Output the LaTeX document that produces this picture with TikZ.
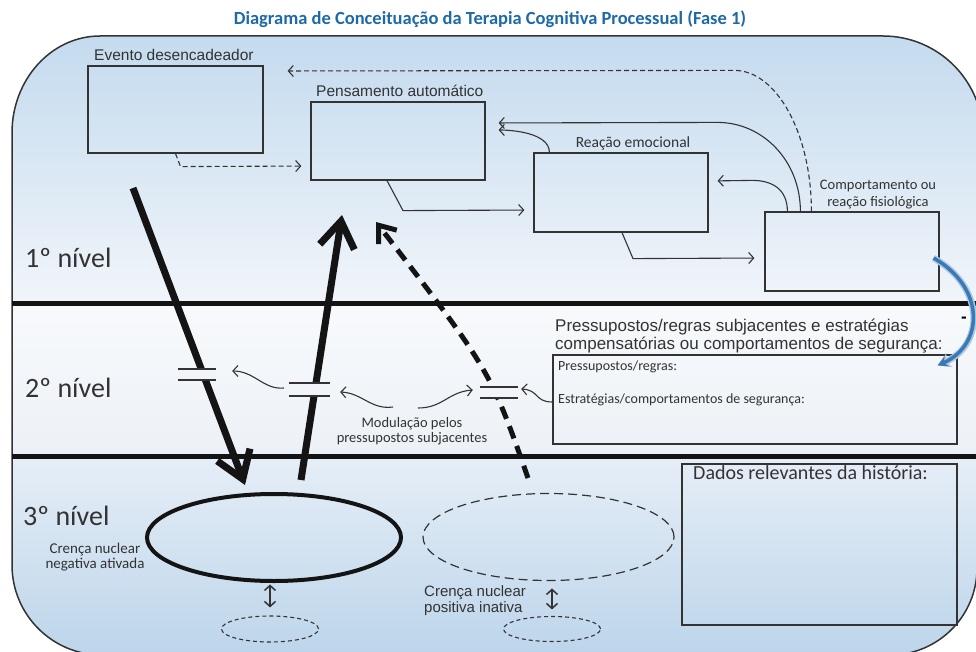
\documentclass[tikz,border=0pt]{standalone}
\usepackage{fontspec}
\setmainfont{Carlito}
\newfontfamily\arialf{Liberation Sans}
\usetikzlibrary{arrows.meta,shapes.geometric,calc}
\definecolor{ink}{HTML}{333333}
\definecolor{titleblue}{HTML}{1E69A8}
\definecolor{bgA}{HTML}{C3DAEE}
\definecolor{bgB}{HTML}{F1F5FA}
\definecolor{bgC}{HTML}{F8FAFC}
\definecolor{bgD}{HTML}{ECF1F7}
\definecolor{bgE}{HTML}{E6EEF7}
\definecolor{bgF}{HTML}{BBD4EA}
\definecolor{arcblue}{HTML}{3B78B4}
\definecolor{arclight}{HTML}{A8C8E6}
\newcommand\fsz[2]{\fontsize{#1}{#2}\selectfont}
\begin{document}
\begin{tikzpicture}[x=1pt,y=-1pt,
  box/.style={draw=ink, line width=1.2pt, rectangle, inner sep=0pt},
  conn/.style={draw=ink, line width=1.1pt, -{Straight Barb[length=5pt,width=11pt]}},
  dconn/.style={conn, dash pattern=on 5pt off 3pt},
  big/.style={draw=black!92, line width=7pt, -{Straight Barb[length=26pt,width=35pt]}},
  bigdash/.style={draw=black!92, line width=5pt, dash pattern=on 13pt off 8pt, -{Straight Barb[length=15pt,width=23pt]}},
  gate/.style={rectangle, fill=bgC!45!bgD, inner sep=0pt, draw=none},
  gateline/.style={draw=ink, line width=1.8pt},
  lbl/.style={text=ink, inner sep=0pt},
  dbl/.style={draw=ink, line width=1.5pt, {Straight Barb[length=5pt,width=11pt]}-{Straight Barb[length=5pt,width=11pt]}}
]
\useasboundingbox (0,0) rectangle (976,652);
\clip (0,0) rectangle (976,652);
% background
\begin{scope}
\clip (12,133) arc[start angle=180,end angle=270,x radius=88,y radius=97] -- (883,36)
  arc[start angle=270,end angle=360,radius=100] -- (977,568)
  arc[start angle=0,end angle=90,radius=87] -- (102,655)
  arc[start angle=90,end angle=180,radius=90] -- cycle;
\fill[top color=bgA, bottom color=bgB] (0,30) rectangle (990,303);
\fill[top color=bgC, bottom color=bgD] (0,303) rectangle (990,456);
\fill[top color=bgE, bottom color=bgF] (0,456) rectangle (990,662);
\end{scope}
\draw[ink, line width=1.5pt] (12,133) arc[start angle=180,end angle=270,x radius=88,y radius=97] -- (883,36)
  arc[start angle=270,end angle=360,radius=100] -- (977,568)
  arc[start angle=0,end angle=90,radius=87] -- (102,655)
  arc[start angle=90,end angle=180,radius=90] -- cycle;
% level separators
\draw[black!92, line width=5pt] (12,303.5) -- (990,303.5);
\draw[black!92, line width=5pt] (12,456) -- (990,456);
% title
\node[anchor=base, inner sep=0pt, font=\bfseries\fsz{18.5}{21}, text=titleblue] (title) at (490,25) {Diagrama de Conceituação da Terapia Cognitiva Processual (Fase 1)};
% level labels
\node[lbl, anchor=base west, font=\fsz{28}{30}] (n1) at (25,267) {1º nível};
\node[lbl, anchor=base west, font=\fsz{28}{30}] (n2) at (25,397) {2º nível};
\node[lbl, anchor=base west, font=\fsz{28}{30}] (n3) at (23,525) {3º nível};
% boxes
\node[box, minimum width=175pt, minimum height=87pt] (evento) at (175.5,109.5) {};
\node[box, minimum width=174pt, minimum height=78pt] (pens) at (398,141) {};
\node[box, minimum width=174pt, minimum height=79pt] (reac) at (621,192.5) {};
\node[box, minimum width=174pt, minimum height=79pt] (comp) at (852,251.5) {};
\node[box, minimum width=404pt, minimum height=89pt] (press) at (755,399.5) {};
\node[box, minimum width=275pt, minimum height=161pt] (dados) at (819.5,544.5) {};
% box labels
\node[lbl, anchor=base west, font=\arialf\fsz{15.5}{18}] (evL) at (94,60.5) {Evento desencadeador};
\node[lbl, anchor=base west, font=\arialf\fsz{15.5}{18}] (peL) at (316,96.5) {Pensamento automático};
\node[lbl, anchor=base, font=\fsz{15.5}{18}] (reL) at (633,147.5) {Reação emocional};
\node[lbl, anchor=base, align=center, font=\fsz{14.5}{17}] (coL) at (878,207) {Comportamento ou\\reação fisiológica};
\node[lbl, anchor=base west, align=left, font=\arialf\fsz{17}{18.5}] (phead) at (555,349.5) {Pressupostos/regras subjacentes e estratégias\\compensatórias ou comportamentos de segurança:};
\node[lbl, anchor=base west, font=\fsz{14}{16}] (pr1) at (558,370) {Pressupostos/regras:};
\node[lbl, anchor=base west, font=\fsz{14}{16}] (pr2) at (558,403) {Estratégias/comportamentos de segurança:};
\node[lbl, anchor=base west, font=\fsz{20}{22}] (daL) at (693,479) {Dados relevantes da história:};
\node[anchor=base, inner sep=0pt, font=\arialf\bfseries\fsz{17}{17}] (minus) at (964,322) {-};
% ellipses
\node[ellipse, draw=black!92, line width=4pt, minimum width=254pt, minimum height=87pt, inner sep=0pt] (neg) at (274,537.5) {};
\node[ellipse, draw=ink, line width=1.2pt, dash pattern=on 9pt off 5pt, minimum width=251pt, minimum height=87pt, inner sep=0pt] (pos) at (548.5,537) {};
\node[ellipse, draw=ink, line width=1.1pt, dash pattern=on 4pt off 3pt, minimum width=97pt, minimum height=26pt, inner sep=0pt] (negs) at (270,629) {};
\node[ellipse, draw=ink, line width=1.1pt, dash pattern=on 4pt off 3pt, minimum width=97pt, minimum height=25pt, inner sep=0pt] (poss) at (552,629) {};
\node[lbl, anchor=base, align=center, font=\fsz{15}{15.5}] (negL) at (95,568.5) {Crença nuclear\\negativa ativada};
\node[lbl, anchor=base west, align=left, font=\arialf\fsz{15}{16}] (posL) at (424,612) {Crença nuclear\\positiva inativa};
\draw[dbl] ([yshift=8pt]negs.north) -- ([yshift=31pt]negs.north);
\draw[dbl] ([yshift=6.5pt]poss.north) -- ([yshift=27.5pt]poss.north);
% big arrows
\coordinate (dA) at (133,188); \coordinate (dB) at (245,485);
\coordinate (uA) at (301,480); \coordinate (uB) at (342,215);
\coordinate (pA) at (528,478); \coordinate (pB) at (376,222);
\draw[big] (dA) -- (dB);
\draw[big] (uA) -- (uB);
\draw[bigdash] (pA) .. controls (490,370) .. (pB);
% gates
\node[gate, minimum width=38pt, minimum height=11pt] (g1) at (197,374.5) {};
\node[gate, minimum width=41pt, minimum height=13pt] (g2) at (309.5,389.5) {};
\node[gate, minimum width=38pt, minimum height=11pt] (g3) at (499,392.5) {};
\foreach \g in {g1,g2,g3}{
  \draw[gateline] (\g.north west) -- (\g.north east) (\g.south west) -- (\g.south east);
}
% modulation label and wavy arrows
\node[lbl, anchor=base, align=center, font=\fsz{14.5}{15}] (mod) at (412,442) {Modulação pelos\\pressupostos subjacentes};
\coordinate (mt1) at (393,407);
\coordinate (mt2) at (418,408);
\draw[conn] ([xshift=-5pt,yshift=1.5pt]g2.west) .. controls +(-20,2) and +(22,0) .. ([xshift=16pt,yshift=3.5pt]g1.east);
\draw[conn] (mt1) .. controls +(-22,3) and +(22,1) .. ([xshift=10pt,yshift=-2.5pt]g2.east);
\draw[conn] (mt2) .. controls +(25,0) and +(-25,2) .. ([xshift=-7pt,yshift=2.5pt]g3.west);
\draw[conn] ([yshift=-2.5pt]press.west) .. controls +(-18,0) and +(18,1) .. ([xshift=3pt,yshift=3.5pt]g3.east);
% level 1 connectors
\draw[conn, shorten >=9pt] ([xshift=-11pt]pens.south) -- ++(16,30) -- ([yshift=-17.5pt]reac.west);
\draw[conn, shorten >=10pt] ([xshift=1pt]reac.south) -- ++(11,26) -- ([yshift=-6.5pt]comp.west);
\draw[conn, shorten >=9pt] ([xshift=23pt]comp.north west) .. controls +(0,-22) and +(20,0) .. ++(-35,-31) -- ([yshift=11.5pt]reac.east);
\draw[conn, shorten >=13pt] ([xshift=36pt]comp.north west) .. controls +(0,-50) and +(46,0) .. ++(-83,-89) -- ([yshift=18pt]pens.east);
\draw[conn, shorten >=13pt] ([xshift=16pt]reac.north west) .. controls +(0,-20) and +(25,0) .. ([yshift=11pt]pens.east);
\draw[dconn, shorten >=24pt] ([xshift=47pt]comp.north west) .. controls +(0,-78) and +(42,0) .. ++(-77,-141) -- ([yshift=38.5pt]evento.east);
\draw[dconn, shorten >=9pt] (evento.south) -- ++(5,13) -- ([yshift=-25pt]pens.west);
% blue arc
\draw[arclight, line width=6.5pt, -{Stealth[length=13pt,width=15pt]}] ([xshift=-6pt,yshift=-6.5pt]comp.east) .. controls (986,288) and (984,345) .. ([xshift=-20pt,yshift=-11pt]press.north east);
\draw[arcblue, line width=3.5pt, -{Stealth[length=10pt,width=11pt]}] ([xshift=-6pt,yshift=-6.5pt]comp.east) .. controls (986,288) and (984,345) .. ([xshift=-20pt,yshift=-11pt]press.north east);
\end{tikzpicture}
\end{document}
